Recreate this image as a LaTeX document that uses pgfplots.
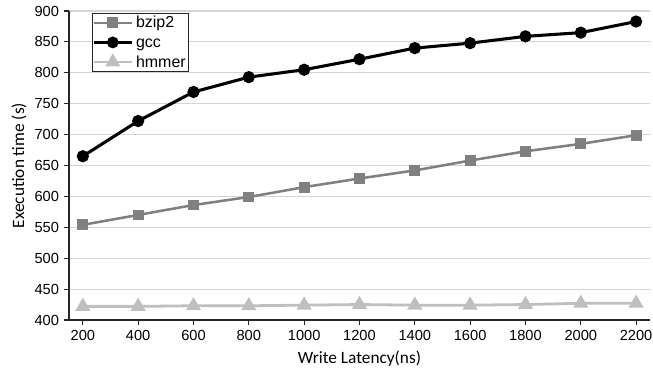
\documentclass[border=0pt]{standalone}
\usepackage{fontspec}
\setmainfont{Liberation Sans}
\newfontfamily\calibri{Carlito}
\usepackage{pgfplots}
\pgfplotsset{compat=1.18}
\definecolor{bzip}{RGB}{128,128,128}
\definecolor{hmm}{RGB}{191,191,191}
\definecolor{grid}{RGB}{212,212,212}
\begin{document}
\begin{tikzpicture}
\begin{axis}[
  scale only axis,
  width=437pt, height=232.4pt,
  xmin=150, xmax=2250,
  ymin=400, ymax=900,
  xtick={200,400,...,2200},
  ytick={400,450,...,900},
  axis x line*=bottom,
  axis y line*=left,
  axis line style={black!85, line width=1pt},
  tick style={black!85, line width=0.8pt},
  tick align=outside,
  major tick length=4pt,
  xmajorgrids=false, xminorgrids=false,
  ymajorgrids=true,
  y grid style={grid, line width=0.8pt},
  /pgf/number format/assume math mode=true,
  /pgf/number format/set thousands separator={},
  tick label style={font=\fontsize{11}{13}\selectfont},
  xlabel={\calibri Write Latency(ns)},
  ylabel={\calibri Execution time (s)},
  label style={font=\fontsize{13}{15}\selectfont},
  xlabel style={at={(axis description cs:0.5,0)}, anchor=base, yshift=-33pt, inner sep=0pt},
  ylabel style={at={(axis description cs:0,0.5)}, anchor=base, yshift=33.7pt, inner sep=0pt},
  legend style={at={(0.039,0.995)}, anchor=north west, draw=black!85, line width=0.8pt,
    font=\fontsize{12}{14}\selectfont, inner sep=0pt, row sep=0pt,
    cells={anchor=west, inner sep=0.6pt, text height=9.2pt, text depth=2.6pt},
    /tikz/every even column/.append style={column sep=0pt}},
  legend image post style={line width=2pt},
  legend image code/.code={\draw[mark repeat=2,mark phase=2] plot coordinates {(0cm,0cm) (0.51cm,0cm) (1.02cm,0cm)};},
]
\addplot[bzip, line width=1.9pt, mark=square*, mark size=3.1pt, mark options={solid}] coordinates {
(200,554) (400,570) (600,586) (800,599) (1000,615) (1200,629) (1400,642) (1600,658) (1800,673) (2000,685) (2200,699)};
\addlegendentry{bzip2}
\addplot[black, line width=2.3pt, mark=*, mark size=3.4pt] coordinates {
(200,665) (400,722) (600,769) (800,793) (1000,805) (1200,822) (1400,840) (1600,848) (1800,859) (2000,865) (2200,883)};
\addlegendentry{gcc}
\addplot[hmm, line width=2.1pt, mark=triangle*, mark size=4.5pt] coordinates {
(200,422) (400,422) (600,423) (800,423) (1000,424) (1200,425) (1400,424) (1600,424) (1800,425) (2000,427) (2200,427)};
\addlegendentry{hmmer}
\end{axis}
\pgfresetboundingbox
\path[use as bounding box] ([xshift=-51.9pt,yshift=-36.1pt]current axis.south west) rectangle ([xshift=2.3pt,yshift=8.3pt]current axis.north east);
\end{tikzpicture}
\end{document}
